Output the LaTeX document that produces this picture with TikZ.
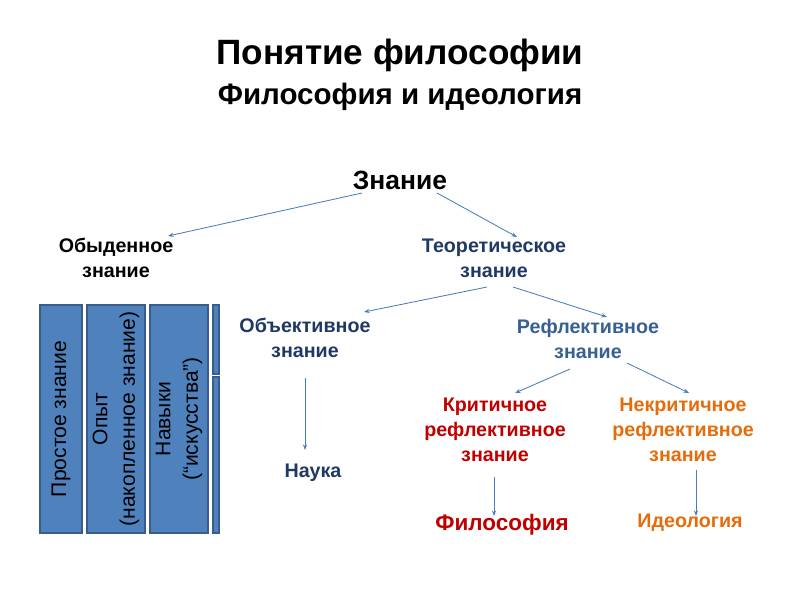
\documentclass[tikz,border=0pt]{standalone}
\usepackage{fontspec}
\setmainfont{Liberation Sans}
\usetikzlibrary{arrows.meta,calc}
\definecolor{linkblue}{HTML}{4A7EBB}
\definecolor{barblue}{HTML}{4F81BD}
\definecolor{barline}{HTML}{385D8A}
\definecolor{navy}{HTML}{1F3864}
\definecolor{steel}{HTML}{376092}
\definecolor{critred}{HTML}{C00000}
\definecolor{uncritorange}{HTML}{E46C0A}
\tikzset{
  lbl/.style={font=\fontsize{14}{17.8}\selectfont\bfseries, align=center, inner sep=1pt},
  link/.style={draw=linkblue, line width=0.6pt, -{Stealth[length=4pt,width=3pt]}},
  bar/.style={draw=barline, fill=barblue, line width=0.8pt, rotate=90, inner sep=0pt,
    font=\fontsize{15}{19.5}\selectfont, align=center}
}
\begin{document}
\begin{tikzpicture}[x=0.025cm,y=-0.025cm]
    \useasboundingbox (0,0) rectangle (800,600);
    % Titles
    \node[lbl, font=\fontsize{25}{30}\selectfont\bfseries] (title) at (400,55) {Понятие философии};
    \node[lbl, font=\fontsize{21}{25}\selectfont\bfseries] (subtitle) at (400,97) {Философия и идеология};
    % Tree
    \node[lbl, font=\fontsize{18.8}{22}\selectfont\bfseries] (know) at (400,180) {Знание};
    \node[lbl] (everyday) at (116,258) {Обыденное\\знание};
    \node[lbl, text=navy] (theor) at (494,258) {Теоретическое\\знание};
    \node[lbl, text=navy] (object) at (305,338) {Объективное\\знание};
    \node[lbl, text=steel] (reflect) at (588,339) {Рефлективное\\знание};
    \node[lbl, text=critred] (crit) at (495,430) {Критичное\\рефлективное\\знание};
    \node[lbl, text=uncritorange] (uncrit) at (683,430) {Некритичное\\рефлективное\\знание};
    \node[lbl, text=navy] (science) at (313,473) {Наука};
    \node[lbl, text=critred, font=\fontsize{16}{19}\selectfont\bfseries] (philos) at (502,525) {Философия};
    \node[lbl, text=uncritorange] (ideol) at (690,523) {Идеология};
    % Bars of everyday knowledge
    \node[bar, minimum width=5.7cm, minimum height=1.05cm] (simple) at (61,419) {Простое знание};
    \node[bar, minimum width=5.7cm, minimum height=1.45cm] (exper) at (116,419) {Опыт\\(накопленное знание)};
    \node[bar, minimum width=5.7cm, minimum height=1.45cm] (skill) at (179,419) {Навыки\\(“искусства”)};
    \node[bar, minimum width=1.725cm, minimum height=0.15cm] (stripa) at (216,339.5) {};
    \node[bar, minimum width=3.9cm, minimum height=0.15cm] (stripb) at (216,455) {};
    % Connectors
    \draw[link] ($(know)+(-38,13)$) -- ($(everyday)+(52,-22)$);
    \draw[link] ($(know)+(37,13)$) -- ($(theor)+(23,-21)$);
    \draw[link] ($(theor)+(-7,29)$) -- ($(object)+(59,-26)$);
    \draw[link] ($(theor)+(19,29)$) -- ($(reflect)+(19,-22)$);
    \draw[link] ($(reflect)+(-18,30)$) -- ($(crit)+(20,-37)$);
    \draw[link] ($(reflect)+(39,24)$) -- ($(uncrit)+(6,-37)$);
    \draw[link] ($(object)+(0,40)$) -- ($(science)+(-8,-23)$);
    \draw[link] ($(crit)+(-1,47)$) -- ($(philos)+(-8,-9)$);
    \draw[link] ($(uncrit)+(13,40)$) -- ($(ideol)+(6,-7)$);
\end{tikzpicture}
\end{document}
